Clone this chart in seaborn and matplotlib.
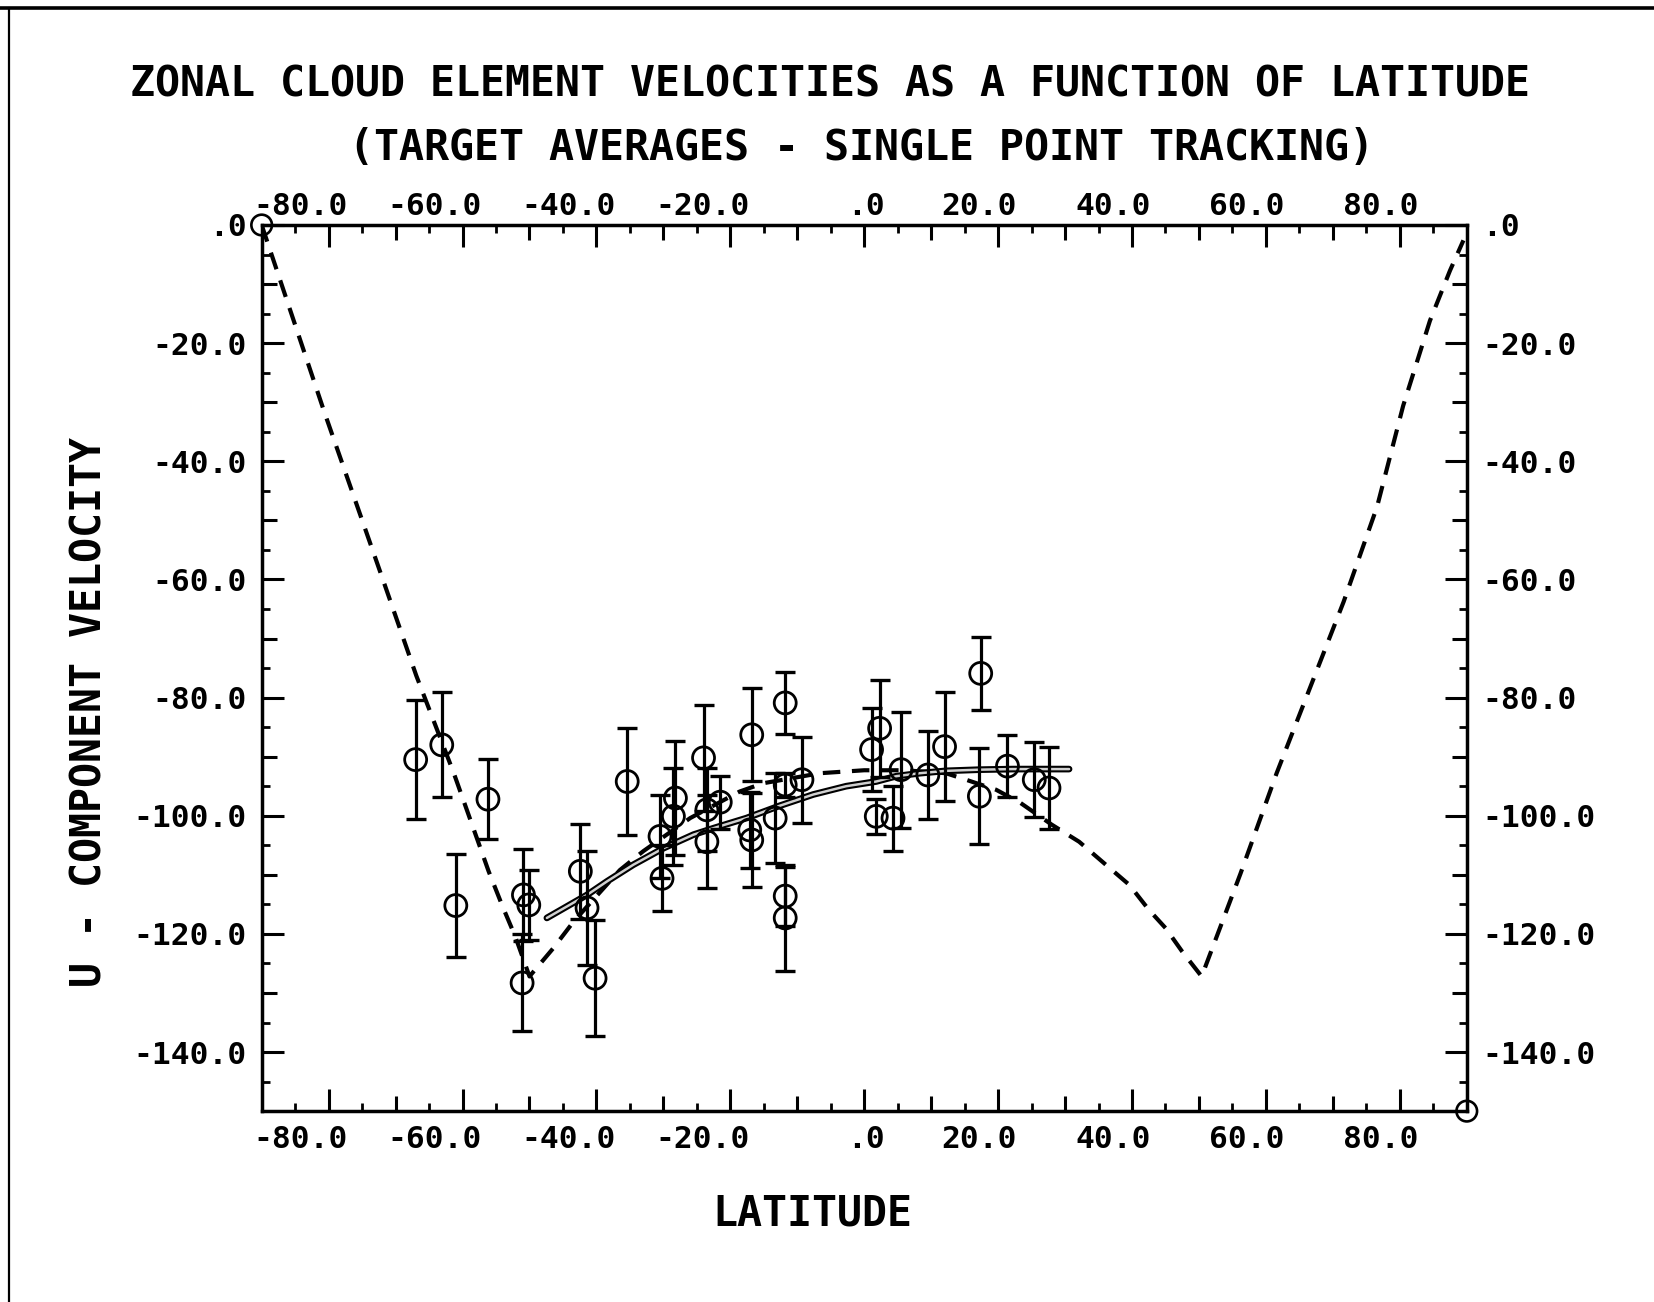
import numpy as np
import pandas as pd
import seaborn as sns
import matplotlib
matplotlib.use("Agg")
import matplotlib.pyplot as plt
import matplotlib.transforms as mtrans
from matplotlib.lines import Line2D

# ---------------- data ----------------
pt_lat = [-67.0, -63.1, -61.0, -56.2, -50.9, -50.1, -51.1, -42.4, -41.4, -40.2,
          -35.4, -30.5, -30.2, -28.2, -28.5, -24.0, -23.5, -21.5, -23.5, -16.8,
          -17.1, -16.8, -13.3, -11.8, -11.8, -11.8, -11.8, -9.3, 1.1, 2.3,
          1.8, 4.3, 5.5, 9.5, 12.0, 17.4, 17.2, 21.4, 25.4, 27.6]
pt_vel = [-90.5, -88.0, -115.2, -97.2, -113.4, -115.1, -128.3, -109.4, -115.6, -127.5,
          -94.2, -103.5, -110.6, -97.0, -100.1, -90.2, -99.0, -97.7, -104.4, -86.3,
          -102.4, -104.1, -100.4, -94.8, -80.9, -113.6, -117.3, -93.9, -88.8, -85.2,
          -100.1, -100.4, -92.2, -93.1, -88.3, -75.9, -96.7, -91.6, -93.9, -95.3]
pt_err = [10.1, 8.9, 8.7, 6.8, 7.8, 6.0, 8.2, 8.0, 9.7, 9.8,
          9.0, 7.0, 5.6, 9.6, 8.2, 9.0, 7.0, 4.5, 7.9, 7.9,
          6.5, 7.9, 7.6, 2.0, 5.2, 5.0, 9.0, 7.3, 7.0, 8.2,
          3.0, 5.5, 9.8, 7.5, 9.2, 6.2, 8.1, 5.3, 6.3, 6.9]

dash_lat = [-90.0, -80.6, -71.9, -66.9, -61.3, -56.1, -54.0, -52.1, -50.0, -46.5,
            -43.4, -36.5, -33.0, -26.0, -18.6, -15.1, -6.6, 0.0, 6.0, 12.2,
            15.2, 19.7, 23.3, 28.0, 32.1, 36.1, 39.6, 42.5, 45.0, 47.5,
            50.4, 56.2, 61.6, 66.6, 71.6, 76.6, 80.5, 84.5, 87.5, 89.5]
dash_vel = [0.0, -31.8, -60.0, -76.3, -92.8, -109.4, -115.4, -120.5, -127.2, -122.5,
            -117.9, -109.2, -106.0, -100.4, -95.9, -94.5, -92.8, -92.3, -92.3, -92.8,
            -93.9, -95.6, -97.8, -101.5, -104.4, -108.3, -111.7, -115.9, -119.0, -123.0,
            -127.2, -109.8, -92.8, -78.3, -63.8, -47.7, -30.6, -16.2, -7.7, -2.6]

fit_lat = [-47.4, -41.4, -38.4, -34.5, -30.0, -25.5, -22.5, -17.6, -12.6, -7.6,
           -2.7, 1.8, 4.8, 8.3, 12.2, 17.2, 22.2, 27.2, 30.6]
fit_vel = [-117.3, -113.4, -111.1, -108.3, -105.5, -103.2, -102.1, -100.4, -98.3, -96.4,
           -95.0, -94.2, -93.3, -92.8, -92.4, -92.2, -92.1, -92.1, -92.1]

corner_lat = [-90.0, 90.0]
corner_vel = [0.0, -150.0]

x_major = [-80, -60, -40, -20, 0, 20, 40, 60, 80]
x_labels = ["-80.0", "-60.0", "-40.0", "-20.0", ".0", "20.0", "40.0", "60.0", "80.0"]
y_major = [0, -20, -40, -60, -80, -100, -120, -140]
y_labels = [".0", "-20.0", "-40.0", "-60.0", "-80.0", "-100.0", "-120.0", "-140.0"]

title1 = "ZONAL CLOUD ELEMENT VELOCITIES AS A FUNCTION OF LATITUDE"
title2 = "(TARGET AVERAGES - SINGLE POINT TRACKING)"
xlabel = "LATITUDE"
ylabel = "U - COMPONENT VELOCITY"

# ---------------- style ----------------
sns.set_style("white")
plt.rcParams["font.family"] = ["DejaVu Sans Mono", "DejaVu Sans"]
plt.rcParams["font.weight"] = "bold"
plt.rcParams["text.color"] = "black"
plt.rcParams["xtick.color"] = "black"
plt.rcParams["ytick.color"] = "black"

FONT_T = 30
FONT_K = 22.5

fig = plt.figure(figsize=(16.54, 13.02), dpi=100)
ax = fig.add_axes([0.1582, 0.1466, 0.8868 - 0.1582, 0.8272 - 0.1466])

pts = pd.DataFrame({"lat": pt_lat, "vel": pt_vel, "err": pt_err})
dash = pd.DataFrame({"lat": dash_lat, "vel": dash_vel})
fit = pd.DataFrame({"lat": fit_lat, "vel": fit_vel})

# dashed model curve
sns.lineplot(data=dash, x="lat", y="vel", ax=ax, color="black", lw=3.0,
             linestyle=(0, (4.2, 2.8)), estimator=None, sort=False, zorder=3)
# hollow solid fit line
sns.lineplot(data=fit, x="lat", y="vel", ax=ax, color="black", lw=4.8,
             estimator=None, sort=False, zorder=4)
sns.lineplot(data=fit, x="lat", y="vel", ax=ax, color="#d0d0d0", lw=1.8,
             estimator=None, sort=False, zorder=4.1)

# error bars + hollow circles
ax.errorbar(pts["lat"], pts["vel"], yerr=pts["err"], fmt="none", ecolor="black",
            elinewidth=2.3, capsize=7.5, capthick=2.4, zorder=5)
sns.scatterplot(data=pts, x="lat", y="vel", ax=ax, marker="o", s=250,
                facecolor="none", edgecolor="black", linewidth=2.0, zorder=6)
sns.scatterplot(x=corner_lat, y=corner_vel, ax=ax, marker="o", s=220,
                facecolor="none", edgecolor="black", linewidth=1.9, zorder=7,
                clip_on=False)

ax.set_xlim(-90, 90)
ax.set_ylim(-150, 0)
ax.set_xlabel("")
ax.set_ylabel("")

for s in ax.spines.values():
    s.set_visible(True)
    s.set_linewidth(2.5)
    s.set_color("black")

# ticks
ax.set_xticks(x_major)
ax.set_xticklabels(x_labels)
ax.set_yticks(y_major)
ax.set_yticklabels(y_labels)
ax.set_xticks(np.arange(-85, 90, 5), minor=True)
ax.set_yticks(np.arange(-145, 0, 5), minor=True)
ax.tick_params(axis="x", which="major", direction="in", length=16, width=2.2,
               top=True, bottom=True, labeltop=True, labelbottom=True,
               labelsize=FONT_K, colors="black", pad=10)
ax.tick_params(axis="y", which="major", direction="in", length=16, width=2.2,
               left=True, right=True, labelleft=True, labelright=True,
               labelsize=FONT_K, pad=11, colors="black")
ax.tick_params(axis="both", which="minor", direction="in", length=6, width=2.0,
               top=True, bottom=True, left=True, right=True, colors="black")
for lab in ax.xaxis.get_majorticklabels():
    lab.set_fontweight("bold")
for lab in ax.yaxis.get_majorticklabels():
    lab.set_fontweight("bold")

# medium ticks at the odd tens
x_mid = [-70, -50, -30, -10, 10, 30, 50, 70]
y_mid = [-10, -30, -50, -70, -90, -110, -130]
for loc in ["top", "bottom"]:
    sx = ax.secondary_xaxis(loc)
    sx.set_xticks(x_mid)
    sx.tick_params(direction="in", length=11, width=2.2, labelbottom=False,
                   labeltop=False, colors="black")
    for sp in sx.spines.values():
        sp.set_visible(False)
for loc in ["left", "right"]:
    sy = ax.secondary_yaxis(loc)
    sy.set_yticks(y_mid)
    sy.tick_params(direction="in", length=11, width=2.2, labelleft=False,
                   labelright=False, colors="black")
    for sp in sy.spines.values():
        sp.set_visible(False)

# shift x labels so the decimal point sits near the tick (plotter style)
def off_for(txt):
    if txt == ".0":
        return 1.0
    return -20.0 if len(txt) >= 5 else -13.5

for t, txt in zip(ax.xaxis.get_major_ticks(), x_labels):
    for lab in (t.label1, t.label2):
        lab.set_transform(lab.get_transform() +
                          mtrans.ScaledTranslation(off_for(txt) / 72.0, 0,
                                                   fig.dpi_scale_trans))
# top labels closer to spine
for t in ax.xaxis.get_major_ticks():
    t.label2.set_transform(t.label2.get_transform() +
                           mtrans.ScaledTranslation(0, -7 / 72.0, fig.dpi_scale_trans))

# titles and axis labels
fig.text(0.502, 0.9255, title1, ha="center", va="baseline", fontsize=FONT_T,
         fontweight="bold", color="black")
fig.text(0.521, 0.8769, title2, ha="center", va="baseline", fontsize=FONT_T,
         fontweight="bold", color="black")
fig.text(0.491, 0.0586, xlabel, ha="center", va="baseline", fontsize=FONT_T,
         fontweight="bold", color="black")
fig.text(0.054, 0.453, ylabel, ha="center", va="center", rotation=90,
         fontsize=FONT_T, fontweight="bold", color="black")

# page frame lines (top and left)
fig.add_artist(Line2D([0.0, 1.0], [0.9935, 0.9935], transform=fig.transFigure,
                      color="black", lw=2.6))
fig.add_artist(Line2D([0.0052, 0.0052], [0.0, 0.9935], transform=fig.transFigure,
                      color="black", lw=1.6))

fig.savefig("out.png", dpi=100)
